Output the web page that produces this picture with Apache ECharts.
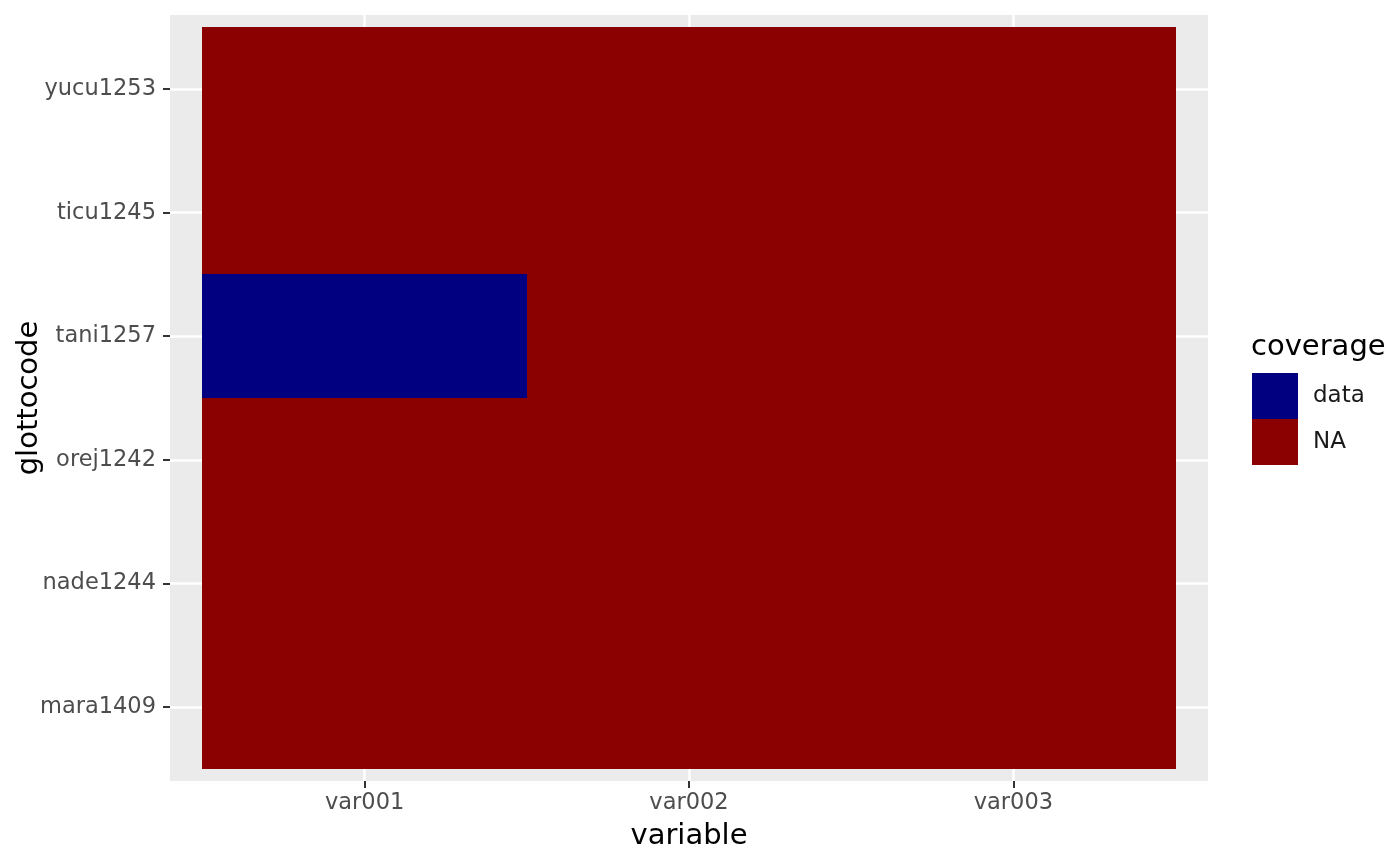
<!DOCTYPE html>
<html>
<head>
<meta charset="utf-8">
<script src="https://cdn.jsdelivr.net/npm/echarts@6/dist/echarts.min.js"></script>
<style>
    html, body { margin: 0; padding: 0; background: #fff; }
    #chart { width: 1400px; height: 866px; }
</style>
</head>
<body>
<div id="chart"></div>
<script>
// categories
const variables = ['var001', 'var002', 'var003'];
const glottocodes = ['mara1409', 'nade1244', 'orej1242', 'tani1257', 'ticu1245', 'yucu1253'];
const coverageLevels = ['data', 'NA'];
// one row per glottocode, one entry per variable
const coverage = [
    ['NA', 'NA', 'NA'],
    ['NA', 'NA', 'NA'],
    ['NA', 'NA', 'NA'],
    ['data', 'NA', 'NA'],
    ['NA', 'NA', 'NA'],
    ['NA', 'NA', 'NA'],
];
const levelColors = { data: '#000080', NA: '#8B0000' };

const font = 'DejaVu Sans';

function cellsFor(level) {
    const out = [];
    coverage.forEach((row, yi) => {
        row.forEach((v, xi) => {
            if (v === level) out.push([xi + 1, yi + 1]);
        });
    });
    return out;
}

// snap tile edges to whole pixels so neighbours share an edge without seams
function renderTile(params, api) {
    const x = api.value(0);
    const y = api.value(1);
    const p0 = api.coord([x - 0.5, y + 0.5]).map(Math.round);
    const p1 = api.coord([x + 0.5, y - 0.5]).map(Math.round);
    return {
        type: 'rect',
        shape: { x: p0[0], y: p0[1], width: p1[0] - p0[0], height: p1[1] - p0[1] },
        style: api.style(),
    };
}

const chart = echarts.init(document.getElementById('chart'));
chart.setOption({
    animation: false,
    backgroundColor: '#fff',
    title: {
        text: 'coverage',
        left: 1251, top: 333,
        padding: 0,
        textStyle: { fontFamily: font, fontSize: 29, fontWeight: 'normal', color: '#000' },
    },
    legend: {
        orient: 'vertical',
        left: 1252, top: 373,
        padding: 0,
        itemWidth: 46, itemHeight: 46, itemGap: 0,
        icon: 'rect',
        data: coverageLevels,
        textStyle: { fontFamily: font, fontSize: 23, color: '#1a1a1a', padding: [0, 0, 0, 10] },
    },
    grid: {
        left: 170, top: 15, width: 1038, height: 766,
        outerBoundsMode: 'none',
        containLabel: false,
        show: true, backgroundColor: '#EBEBEB', borderWidth: 0,
    },
    xAxis: {
        type: 'value', min: 0.4, max: 3.6,
        name: 'variable', nameLocation: 'middle', nameGap: 41,
        nameMoveOverlap: false,
        nameTextStyle: { fontFamily: font, fontSize: 29, color: '#000' },
        axisLine: { show: false },
        axisTick: { show: true, customValues: [1, 2, 3], length: 7, lineStyle: { color: '#333', width: 2 } },
        axisLabel: {
            customValues: [1, 2, 3], margin: 11,
            fontFamily: font, fontSize: 22.5, color: '#4D4D4D',
            formatter: v => variables[Math.round(v) - 1],
        },
        splitLine: { show: true, lineStyle: { color: '#fff', width: 2.5 } },
    },
    yAxis: {
        type: 'value', min: 0.4, max: 6.6,
        name: 'glottocode', nameLocation: 'middle', nameGap: 126,
        nameMoveOverlap: false,
        nameTextStyle: { fontFamily: font, fontSize: 29, color: '#000' },
        axisLine: { show: false },
        axisTick: { show: true, customValues: [1, 2, 3, 4, 5, 6], length: 7, lineStyle: { color: '#333', width: 2 } },
        axisLabel: {
            customValues: [1, 2, 3, 4, 5, 6], margin: 14,
            fontFamily: font, fontSize: 22.5, color: '#4D4D4D',
            formatter: v => glottocodes[Math.round(v) - 1],
        },
        splitLine: { show: true, lineStyle: { color: '#fff', width: 2.5 } },
    },
    series: coverageLevels.map(level => ({
        name: level,
        type: 'custom',
        renderItem: renderTile,
        itemStyle: { color: levelColors[level] },
        encode: { x: 0, y: 1 },
        data: cellsFor(level),
    })),
});
</script>
</body>
</html>
